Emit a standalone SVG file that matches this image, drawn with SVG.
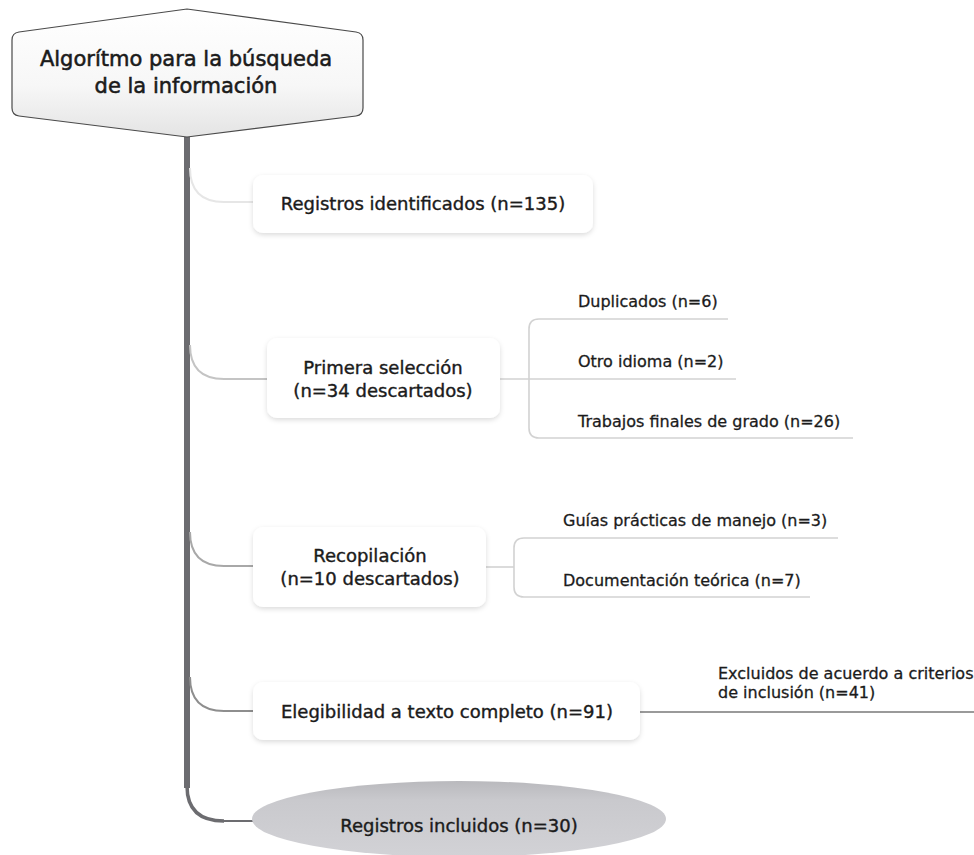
<svg xmlns="http://www.w3.org/2000/svg" width="974" height="855" viewBox="0 0 974 855">
  <style>
    text { font-family: "DejaVu Sans", Verdana, sans-serif; fill: #1b1b1b; stroke: #1b1b1b; stroke-width: 0.4; }
    .title { font-size: 21px; text-anchor: middle; stroke-width: 0.55; }
    .node { font-size: 18px; text-anchor: middle; }
    .leaf { font-size: 16px; stroke-width: 0.3; }
    .box { fill: #ffffff; filter: url(#soft); }
    .bracket { fill: none; stroke: #d2d2d2; stroke-width: 1.6; }
    .branch { fill: none; stroke-width: 2; }
  </style>
  <defs>
    <linearGradient id="hexFill" x1="0" y1="0" x2="0" y2="1">
      <stop offset="0" stop-color="#ffffff"/>
      <stop offset="0.6" stop-color="#f7f7f7"/>
      <stop offset="1" stop-color="#e4e4e4"/>
    </linearGradient>
    <linearGradient id="ovalFill" x1="0" y1="0" x2="0" y2="1">
      <stop offset="0" stop-color="#b9b9bd"/>
      <stop offset="0.25" stop-color="#c9c9cd"/>
      <stop offset="1" stop-color="#d2d2d6"/>
    </linearGradient>
    <filter id="soft" x="-10%" y="-20%" width="120%" height="150%">
      <feDropShadow dx="0" dy="2" stdDeviation="2.5" flood-color="#000" flood-opacity="0.14"/>
    </filter>
  </defs>

  <!-- connectors: trunk, branches and side brackets -->
  <g id="connectors">
    <path d="M187,137 V788" fill="none" stroke="#6c6c70" stroke-width="6"/>
    <path d="M187,786 Q187,821 224,821" fill="none" stroke="#6c6c70" stroke-width="3.5"/>
    <path d="M222,821 H254" fill="none" stroke="#6c6c70" stroke-width="2"/>

    <path class="branch" d="M190,168 Q190,202 224,202 H254" stroke="#e6e6e6"/>
    <path class="branch" d="M190,345 Q190,379 224,379 H268" stroke="#c4c4c4"/>
    <path class="branch" d="M190,532 Q190,566 224,566 H254" stroke="#a8a8a8"/>
    <path class="branch" d="M190,677 Q190,711 224,711 H254" stroke="#8e8e8e"/>

    <!-- Primera selección bracket -->
    <path class="bracket" d="M500,379 H736"/>
    <path class="bracket" d="M728,319 H539 Q529,319 529,329 V428 Q529,438 539,438 H853"/>
    <!-- Recopilación bracket -->
    <path class="bracket" d="M486,567 H514"/>
    <path class="bracket" d="M838,538 H524 Q514,538 514,548 V587 Q514,597 524,597 H810"/>
    <!-- Elegibilidad side line -->
    <path d="M640,712 H974" fill="none" stroke="#9a9a9a" stroke-width="1.8"/>
  </g>

  <g id="n-titulo">
    <path d="M12,40 Q12,33 19,32 L187,9 L356,32 Q363,33 363,40 L363,108 Q363,115 356,116 L187,137 L19,116 Q12,115 12,108 Z" fill="url(#hexFill)" stroke="#4a4a4a" stroke-width="1.2"/>
    <text class="title" x="186" y="66">Algorítmo para la búsqueda</text>
    <text class="title" x="186" y="93">de la información</text>
  </g>

  <g id="n-identificados">
    <rect class="box" x="253" y="175" width="340" height="58" rx="10"/>
    <text class="node" x="423" y="210">Registros identificados (n=135)</text>
  </g>

  <g id="n-primera">
    <rect class="box" x="267" y="338" width="233" height="80" rx="10"/>
    <text class="node" x="383" y="374">Primera selección</text>
    <text class="node" x="383" y="397">(n=34 descartados)</text>
  </g>
  <g id="n-duplicados"><text class="leaf" x="578" y="307">Duplicados (n=6)</text></g>
  <g id="n-idioma"><text class="leaf" x="578" y="367">Otro idioma (n=2)</text></g>
  <g id="n-tfg"><text class="leaf" x="578" y="427">Trabajos finales de grado (n=26)</text></g>

  <g id="n-recopilacion">
    <rect class="box" x="253" y="527" width="233" height="80" rx="10"/>
    <text class="node" x="370" y="562">Recopilación</text>
    <text class="node" x="370" y="585">(n=10 descartados)</text>
  </g>
  <g id="n-guias"><text class="leaf" x="563" y="526">Guías prácticas de manejo (n=3)</text></g>
  <g id="n-teorica"><text class="leaf" x="563" y="586">Documentación teórica (n=7)</text></g>

  <g id="n-elegibilidad">
    <rect class="box" x="253" y="682" width="387" height="58" rx="10"/>
    <text class="node" x="447" y="718">Elegibilidad a texto completo (n=91)</text>
  </g>
  <g id="n-excluidos">
    <text class="leaf" x="718" y="679">Excluidos de acuerdo a criterios</text>
    <text class="leaf" x="718" y="698">de inclusión (n=41)</text>
  </g>

  <g id="n-incluidos">
    <ellipse cx="459" cy="819" rx="207" ry="38" fill="url(#ovalFill)"/>
    <text class="node" x="459" y="832">Registros incluidos (n=30)</text>
  </g>
</svg>
